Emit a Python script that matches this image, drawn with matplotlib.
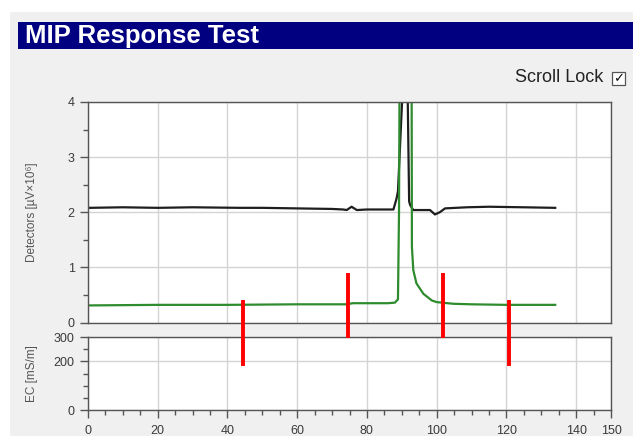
import matplotlib
matplotlib.use("Agg")
import matplotlib.pyplot as plt
from matplotlib.patches import Rectangle
from matplotlib.ticker import MultipleLocator, FixedLocator

plt.rcParams['font.family'] = ['Liberation Sans', 'DejaVu Sans']

# detector traces (time in s, signal in uV x 10^6)
black_x = [0.5, 10, 20, 30, 43.6, 50, 59.8, 70, 73.2, 74.2, 75.6, 77.1, 80, 87.6,
           88.5, 88.9, 90.8, 91.5, 92.1, 92.4, 93.3, 98.1, 99.5, 100.9, 102.4,
           108.6, 115, 125, 134]
black_y = [2.08, 2.09, 2.08, 2.09, 2.08, 2.08, 2.07, 2.06, 2.05, 2.04, 2.10, 2.04,
           2.05, 2.05, 2.25, 2.38, 5.0, 5.0, 2.2, 2.13, 2.04, 2.04, 1.96, 2.0, 2.07,
           2.09, 2.10, 2.09, 2.08]

green_x = [0.5, 20, 40, 60, 74, 76, 86, 88.0, 88.9, 89.2, 89.4, 92.8, 92.9, 93.3,
           94.2, 96.2, 98.6, 100, 104.7, 110, 120, 134]
green_y = [0.31, 0.32, 0.32, 0.33, 0.33, 0.35, 0.35, 0.36, 0.42, 2.0, 5.0, 5.0,
           1.37, 0.95, 0.71, 0.52, 0.40, 0.37, 0.34, 0.33, 0.32, 0.32]

# red marker strokes drawn over the chart (x in s, extent in EC units)
red_x = [44.5, 74.6, 101.7, 120.7]
red_lo = [181, 296, 296, 181]
red_hi = [452, 563, 563, 452]

x_ticks = [0, 20, 40, 60, 80, 100, 120, 140, 150]
det_ticks = [0, 1, 2, 3, 4]
ec_ticks = [0, 200, 300]

W, H = 633, 436
fig = plt.figure(figsize=(W / 100, H / 100), dpi=100, facecolor='white')

# window chrome
fig.patches.append(Rectangle((10 / W, 0), 1, 1 - 12 / H, transform=fig.transFigure,
                             facecolor='#f0f0f0', edgecolor='none', zorder=-10))
fig.patches.append(Rectangle((18 / W, 1 - 49 / H), 1, 27 / H, transform=fig.transFigure,
                             facecolor='#000080', edgecolor='none', zorder=-9))
fig.text(25 / W, 1 - 35.5 / H, 'MIP Response Test', color='white', fontsize=18.5,
         fontweight='bold', va='center', ha='left')
fig.text(603 / W, 1 - 78 / H, 'Scroll Lock', color='#222222', fontsize=13,
         va='center', ha='right')
fig.patches.append(Rectangle((612 / W, 1 - 85 / H), 13 / W, 13 / H, transform=fig.transFigure,
                             facecolor='white', edgecolor='#555555', linewidth=0.9))
fig.text(618.5 / W, 1 - 78.5 / H, '\u2713', color='#111111', fontsize=9.5, fontweight='bold',
         family='DejaVu Sans', va='center', ha='center')

spine_c = '#555555'
grid_c = '#d4d4d4'
tick_c = '#3a3a3a'

ax = fig.add_axes([88 / W, 1 - 322.5 / H, 523 / W, 220.5 / H])
ax_ec = fig.add_axes([88 / W, 1 - 410 / H, 523 / W, 73 / H])

for a in (ax, ax_ec):
    a.set_facecolor('white')
    for s in a.spines.values():
        s.set_color(spine_c)
        s.set_linewidth(1.0)
    a.set_xlim(0, 150)
    a.xaxis.set_major_locator(FixedLocator(x_ticks))
    a.xaxis.set_minor_locator(MultipleLocator(5))
    a.grid(True, which='major', color=grid_c, linewidth=1.0)
    a.set_axisbelow(True)
    a.tick_params(which='both', colors=spine_c, labelcolor=tick_c, labelsize=9)
    a.tick_params(which='major', length=6, width=1)
    a.tick_params(which='minor', length=3.5, width=1)

# detectors panel
ax.plot(black_x, black_y, color='#1e1e1e', linewidth=1.6)
ax.plot(green_x, green_y, color='#2e8b2e', linewidth=1.6)
ax.set_ylim(0, 4)
ax.yaxis.set_major_locator(FixedLocator(det_ticks))
ax.yaxis.set_minor_locator(MultipleLocator(0.5))
ax.tick_params(axis='x', which='both', bottom=False, labelbottom=False)
ax.set_ylabel('Detectors [\u00b5V\u00d710\u2076]', fontsize=8.5, color='#555555')
ax.yaxis.set_label_coords(-0.095, 0.5)

# EC panel (no data)
ax_ec.set_ylim(0, 300)
ax_ec.yaxis.set_major_locator(FixedLocator(ec_ticks))
ax_ec.yaxis.set_minor_locator(FixedLocator([50, 100, 150, 250]))
ax_ec.tick_params(axis='x', which='major', pad=5)
ax_ec.set_ylabel('EC [mS/m]', fontsize=8.5, color='#555555')
ax_ec.yaxis.set_label_coords(-0.095, 0.5)

red = ax_ec.vlines(red_x, red_lo, red_hi, colors='#ff0000', linewidth=2.8, zorder=10)
red.set_clip_on(False)

fig.savefig('out.png', dpi=100, facecolor=fig.get_facecolor())
